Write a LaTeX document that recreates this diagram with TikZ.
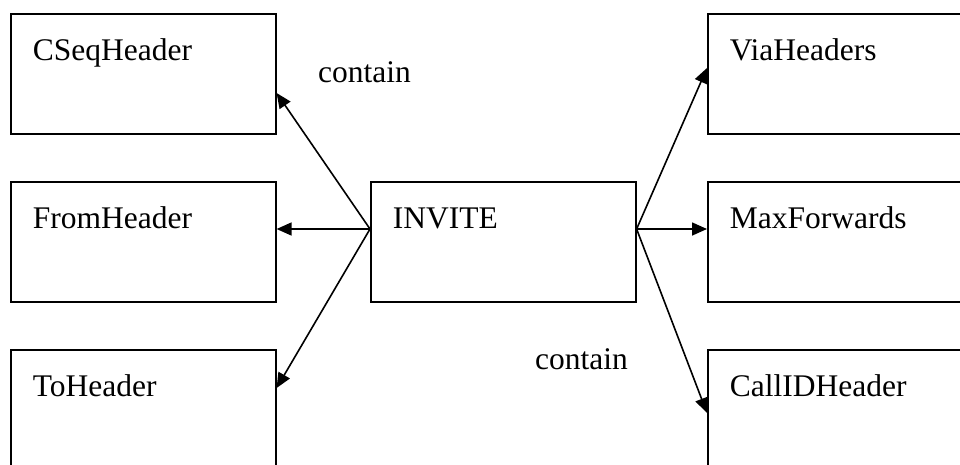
\documentclass[tikz,border=0pt]{standalone}
\usepackage{fontspec}
\setmainfont{Liberation Serif}
\usetikzlibrary{arrows.meta,calc}

\tikzset{
  hdr/.style={draw, line width=1.6pt, anchor=north west, inner xsep=22pt, inner ysep=0pt,
    align=left, text width=221pt, text height=47pt, text depth=73pt,
    font=\fontsize{31.5}{36}\selectfont},
  tag/.style={anchor=base west, inner sep=0pt, font=\fontsize{31.5}{36}\selectfont},
  has/.style={line width=1.6pt, -{Triangle[length=15pt,width=13pt]}}
}

\begin{document}
\begin{tikzpicture}[x=1pt,y=-1pt]
\useasboundingbox (0,0) rectangle (960,464);

    % headers on the left
    \node[hdr] (cseq) at (10,13) {CSeqHeader};
    \node[hdr] (from) at (10,181) {FromHeader};
    \node[hdr] (to) at (10,349) {ToHeader};

    % the request itself
    \node[hdr] (invite) at (370,181) {INVITE};

    % headers on the right
    \node[hdr] (via) at (707,13) {ViaHeaders};
    \node[hdr] (maxfwd) at (707,181) {MaxForwards};
    \node[hdr] (callid) at (707,349) {CallIDHeader};

    \node[tag] (containL) at (318,82) {contain};
    \node[tag] (containR) at (535,369) {contain};

    \coordinate (inL) at ($(invite.north west)+(0,48)$);
    \coordinate (inR) at ($(invite.north east)+(0,48)$);

      \draw[has] (inL) -- ($(cseq.north east)+(0,80)$);
      \draw[has] (inL) -- ($(from.north east)+(0,48)$);
      \draw[has] (inL) -- ($(to.north east)+(0,39)$);
      \draw[has] (inR) -- ($(via.north west)+(0,55)$);
      \draw[has] (inR) -- ($(maxfwd.north west)+(0,48)$);
      \draw[has] (inR) -- ($(callid.north west)+(0,64)$);
\end{tikzpicture}
\end{document}
